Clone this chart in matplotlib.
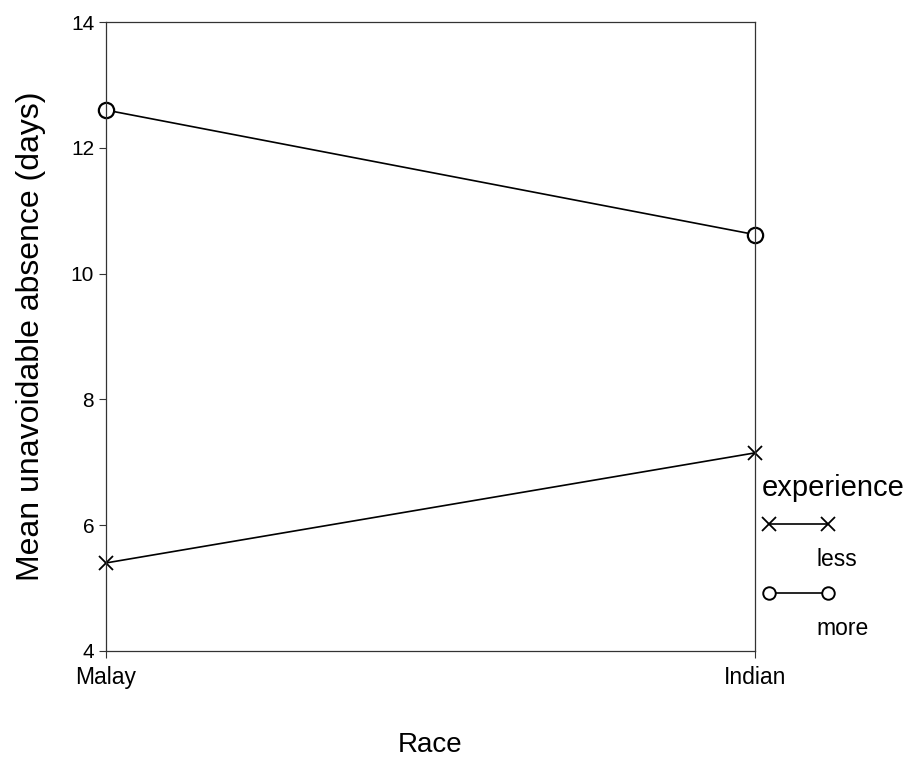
import matplotlib.pyplot as plt
from matplotlib.lines import Line2D

plt.rcParams['font.family'] = ['Liberation Sans', 'DejaVu Sans']

# data
races = ['Malay', 'Indian']
less_exp = [5.4, 7.15]
more_exp = [12.6, 10.62]
y_ticks = [4, 6, 8, 10, 12, 14]

fig = plt.figure(figsize=(9.11, 7.59), dpi=100)
ax = fig.add_axes([0.1164, 0.1423, 0.7124, 0.8287])

x = range(len(races))
ax.plot(x, less_exp, color='black', linewidth=1.2, marker='x', markersize=10,
        markeredgewidth=1.3, clip_on=False)
ax.plot(x, more_exp, color='black', linewidth=1.2, marker='o', markersize=11,
        markerfacecolor='white', markeredgewidth=1.6, clip_on=False)

ax.set_xlim(0, len(races) - 1)
ax.set_ylim(4, 14)
ax.set_xticks(list(x))
ax.set_xticklabels(races, fontsize=16.5)
ax.set_yticks(y_ticks)
ax.set_yticklabels([str(t) for t in y_ticks], fontsize=15)
ax.tick_params(axis='both', direction='out', length=5, width=0.8, color='#333333')
ax.tick_params(axis='x', pad=6)
for s in ax.spines.values():
    s.set_linewidth(0.9)
    s.set_color('#333333')

ax.set_ylabel('Mean unavoidable absence (days)', fontsize=23, labelpad=18)
ax.set_xlabel('Race', fontsize=20, labelpad=31)

# legend: handle on one row, its label on the next row
h_less = Line2D([], [], color='black', linewidth=1.2, marker='x', markersize=10,
                markeredgewidth=1.3)
h_more = Line2D([], [], color='black', linewidth=1.2, marker='o', markersize=9,
                markerfacecolor='white', markeredgewidth=1.4)
blank = Line2D([], [], color='none')
leg = fig.legend([h_less, blank, h_more, blank], ['', 'less', '', 'more'],
                 title='experience', title_fontsize=21, fontsize=16.5,
                 loc='upper left', bbox_to_anchor=(0.8365, 0.375),
                 frameon=False, numpoints=2, handlelength=3.18,
                 handletextpad=-0.8, labelspacing=0.5, borderpad=0,
                 borderaxespad=0, alignment='left')

fig.savefig('out.png', dpi=100)
